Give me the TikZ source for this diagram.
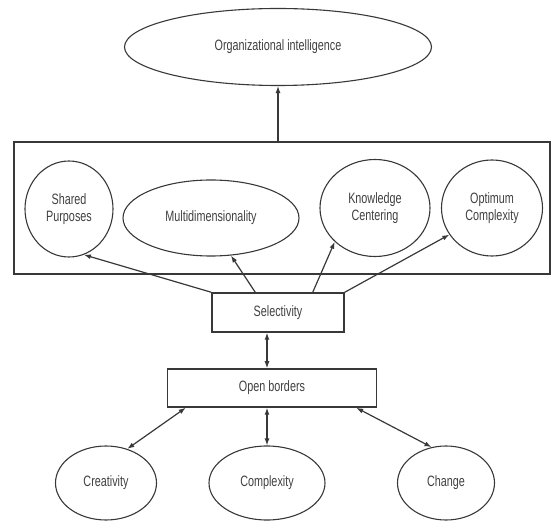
\documentclass[tikz,border=0pt]{standalone}
\usepackage{fontspec}
\setmainfont{Liberation Sans}[FakeStretch=0.72]
\usetikzlibrary{shapes.geometric,arrows.meta,calc}
\definecolor{ink}{HTML}{383838}
\definecolor{txt}{HTML}{404040}
\tikzset{
  oval/.style={ellipse,draw=ink,line width=1.1pt,inner sep=0pt,align=center,text=txt,font=\fontsize{15}{17}\selectfont},
  rbox/.style={rectangle,draw=ink,line width=1.5pt,inner sep=0pt,text=txt,font=\fontsize{15}{17}\selectfont},
  arr/.style={draw=ink,line width=1.2pt,-{Latex[length=7pt,width=5pt]}},
  darr/.style={draw=ink,line width=1.2pt,{Latex[length=7pt,width=5pt]}-{Latex[length=7pt,width=5pt]}}
}
\begin{document}
\begin{tikzpicture}[x=1pt,y=-1pt]
\useasboundingbox (0,0) rectangle (552,521);
% big frame
\node[rbox,line width=1.7pt,minimum width=536pt,minimum height=132pt] (frame) at (282,208) {};
% top ellipse
\node[oval,minimum width=307pt,minimum height=77pt] (oi) at (278,47) {Organizational intelligence};
% inner ellipses
\node[oval,minimum width=88pt,minimum height=96pt] (sp) at (69,209) {Shared\\Purposes};
\node[oval,minimum width=176pt,minimum height=76pt] (md) at (211,218) {Multidimensionality};
\node[oval,minimum width=110pt,minimum height=97pt] (kc) at (375,208) {Knowledge\\Centering};
\node[oval,minimum width=101pt,minimum height=96pt] (oc) at (492,208) {Optimum\\Complexity};
% boxes
\node[rbox,minimum width=132pt,minimum height=39pt] (sel) at (278,312.5) {Selectivity};
\node[rbox,minimum width=209pt,minimum height=38pt] (ob) at (272,388) {Open borders};
% bottom ellipses
\node[oval,minimum width=101pt,minimum height=74pt] (cr) at (106,483) {Creativity};
\node[oval,minimum width=116pt,minimum height=74pt] (cx) at (267,483) {Complexity};
\node[oval,minimum width=97pt,minimum height=74pt] (ch) at (446,483) {Change};
% connectors
\draw[arr] (oi.south |- frame.north) -- (oi.south);
\draw[arr] (sel.north west) -- (sp.-72);
\draw[arr] ($(sel.north west)+(44,0)$) -- (md.-62);
\draw[arr] ($(sel.north east)+(-32,0)$) -- (kc.-140);
\draw[arr] (sel.north east) -- (oc.-148);
\draw[darr] (sel.south -| cx.north) -- (ob.north -| cx.north);
\draw[darr] ($(ob.south west)+(19,0)$) -- (cr.58);
\draw[darr] (ob.south -| cx.north) -- (cx.north);
\draw[darr] ($(ob.south east)+(-21,0)$) -- (ch.112);
\end{tikzpicture}
\end{document}
